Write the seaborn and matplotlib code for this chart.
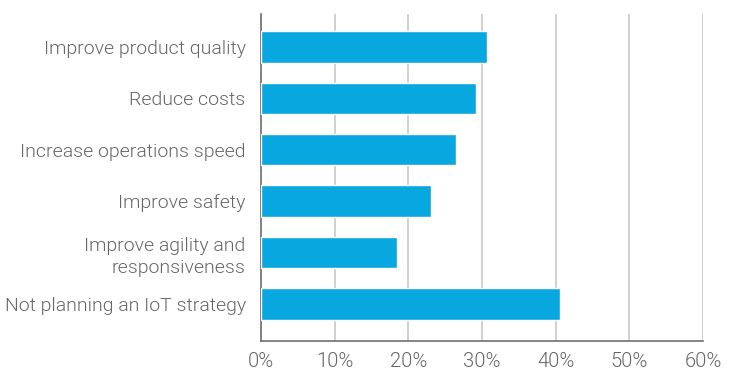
import matplotlib
matplotlib.use("Agg")
import matplotlib.pyplot as plt
import seaborn as sns
import pandas as pd
from matplotlib.ticker import FuncFormatter

categories = [
    "Improve product quality",
    "Reduce costs",
    "Increase operations speed",
    "Improve safety",
    "Improve agility and\nresponsiveness",
    "Not planning an IoT strategy",
]
values = [30.7, 29.2, 26.5, 23.1, 18.5, 40.6]
x_ticks = [0, 10, 20, 30, 40, 50, 60]

df = pd.DataFrame({"category": categories, "value": values})

sns.set_theme(style="white")
plt.rcParams["font.family"] = ["Roboto", "DejaVu Sans"]

fig = plt.figure(figsize=(7.29, 3.75), dpi=100)
ax = fig.add_axes([261 / 729, 1 - 341 / 375, (703 - 261) / 729, (341 - 14) / 375])

sns.barplot(data=df, x="value", y="category", color="#09a7df", saturation=1,
            width=0.61, ax=ax, zorder=3)

ax.set_xlim(0, 60)
ax.set_ylim(5.72, -0.64)
ax.set_xticks(x_ticks)
ax.xaxis.set_major_formatter(FuncFormatter(lambda v, p: f"{int(v)}%"))
ax.grid(axis="x", color="#c8c8c8", linewidth=1.2, zorder=0)
ax.set_xlabel("")
ax.set_ylabel("")
for s in ["top", "right"]:
    ax.spines[s].set_visible(False)
for s in ["left", "bottom"]:
    ax.spines[s].set_color("#707070")
    ax.spines[s].set_linewidth(1.2)
ax.tick_params(axis="both", length=0, colors="#707070")
ax.tick_params(axis="x", labelsize=14.5, pad=8)
ax.tick_params(axis="y", labelsize=14, pad=11)
for lab in ax.get_yticklabels() + ax.get_xticklabels():
    lab.set_fontweight(300)
    lab.set_color("#666666")
for lab in ax.get_yticklabels():
    lab.set_linespacing(1.3)

fig.savefig("out.png", dpi=100)
